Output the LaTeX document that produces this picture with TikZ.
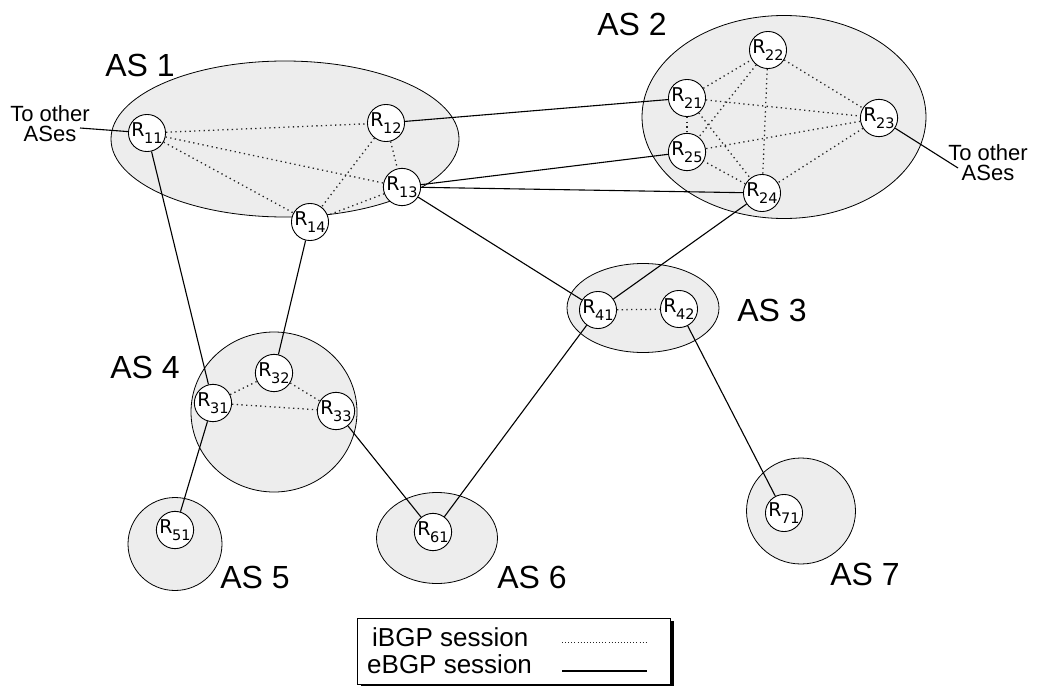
\documentclass[tikz,border=0pt]{standalone}
\usepackage{fontspec}
\setmainfont{Liberation Sans}
\newfontfamily\rfont{DejaVu Sans}
\usetikzlibrary{shapes.geometric}

% router label: R with a lowered index
\newcommand{\rlab}[1]{\fontsize{19}{19}\selectfont R\kern-0.5pt\raisebox{-6.5pt}{\fontsize{14.5}{14.5}\selectfont #1}}

\tikzset{
  asarea/.style={ellipse, draw, line width=0.8pt, fill=black!7, inner sep=0pt},
  router/.style={circle, draw, line width=0.9pt, fill=white, minimum size=35pt,
                 inner sep=0pt, font=\rfont},
  aslabel/.style={font=\fontsize{32}{32}\selectfont, inner sep=0pt},
  farlabel/.style={font=\fontsize{22}{20}\selectfont, align=center, inner sep=0pt},
  ibgp/.style={line width=1.3pt, black!85, dash pattern=on 1.3pt off 3.4pt},
  ebgp/.style={line width=1.1pt, black},
  legtext/.style={font=\fontsize{26}{26}\selectfont, inner sep=0pt, anchor=base west}
}

\begin{document}
\begin{tikzpicture}[x=1pt, y=-1pt]
\useasboundingbox (0,0) rectangle (1038,685);

% autonomous systems
\node[asarea, minimum width=348pt, minimum height=156pt] (as1) at (285,139) {};
\node[asarea, minimum width=284pt, minimum height=203pt] (as2) at (784,117) {};
\node[asarea, minimum width=152pt, minimum height=89pt]  (as3) at (643,308) {};
\node[asarea, minimum width=166pt, minimum height=160pt] (as4) at (274,412) {};
\node[asarea, minimum width=94pt,  minimum height=93pt]  (as5) at (175,544) {};
\node[asarea, minimum width=121pt, minimum height=91pt]  (as6) at (437,538) {};
\node[asarea, minimum width=109pt, minimum height=106pt] (as7) at (801,511) {};

\node[aslabel] (l1) at (140,65)  {AS 1};
\node[aslabel] (l2) at (632,24)  {AS 2};
\node[aslabel] (l3) at (772,310) {AS 3};
\node[aslabel] (l4) at (145,367) {AS 4};
\node[aslabel] (l5) at (255,577) {AS 5};
\node[aslabel] (l6) at (532,577) {AS 6};
\node[aslabel] (l7) at (865,574) {AS 7};

% routers
\node[router] (r11) at (147,133) {\rlab{11}};
\node[router] (r12) at (386,123) {\rlab{12}};
\node[router] (r13) at (402,187) {\rlab{13}};
\node[router] (r14) at (310,222) {\rlab{14}};
\node[router] (r21) at (687,98)  {\rlab{21}};
\node[router] (r22) at (768,50)  {\rlab{22}};
\node[router] (r23) at (879,118) {\rlab{23}};
\node[router] (r24) at (762,193) {\rlab{24}};
\node[router] (r25) at (687,152) {\rlab{25}};
\node[router] (r41) at (598,310) {\rlab{41}};
\node[router] (r42) at (679,309) {\rlab{42}};
\node[router] (r31) at (213,403) {\rlab{31}};
\node[router] (r32) at (274,373) {\rlab{32}};
\node[router] (r33) at (336,411) {\rlab{33}};
\node[router] (r51) at (175,530) {\rlab{51}};
\node[router] (r61) at (433,532) {\rlab{61}};
\node[router] (r71) at (784,513) {\rlab{71}};

% links towards other ASes
\node[farlabel] (out1) at (50,124)  {To other\\ASes};
\node[farlabel] (out2) at (988,163) {To other\\ASes};
\coordinate (o1) at (80,128);
\coordinate (o2) at (958,168);

% iBGP sessions
\draw[ibgp] (r11) -- (r12);
\draw[ibgp] (r11) -- (r13);
\draw[ibgp] (r11) -- (r14);
\draw[ibgp] (r12) -- (r13);
\draw[ibgp] (r12) -- (r14);
\draw[ibgp] (r13) -- (r14);
\draw[ibgp] (r21) -- (r22);
\draw[ibgp] (r21) -- (r23);
\draw[ibgp] (r21) -- (r24);
\draw[ibgp] (r21) -- (r25);
\draw[ibgp] (r22) -- (r23);
\draw[ibgp] (r22) -- (r24);
\draw[ibgp] (r22) -- (r25);
\draw[ibgp] (r23) -- (r24);
\draw[ibgp] (r23) -- (r25);
\draw[ibgp] (r24) -- (r25);
\draw[ibgp] (r41) -- (r42);
\draw[ibgp] (r31) -- (r32);
\draw[ibgp] (r31) -- (r33);
\draw[ibgp] (r32) -- (r33);

% eBGP sessions
\draw[ebgp] (o1) -- (r11);
\draw[ebgp] (r23) -- (o2);
\draw[ebgp] (r11) -- (r31);
\draw[ebgp] (r12) -- (r21);
\draw[ebgp] (r13) -- (r25);
\draw[ebgp] (r13) -- (r24);
\draw[ebgp] (r13) -- (r41);
\draw[ebgp] (r14) -- (r32);
\draw[ebgp] (r24) -- (r41);
\draw[ebgp] (r31) -- (r51);
\draw[ebgp] (r33) -- (r61);
\draw[ebgp] (r41) -- (r61);
\draw[ebgp] (r42) -- (r71);

% legend
\node[fill=black, minimum width=313pt, minimum height=66pt, inner sep=0pt] (legshadow) at (517,654) {};
\node[draw, line width=0.8pt, fill=white, minimum width=313pt, minimum height=66pt, inner sep=0pt] (legend) at (513.5,651) {};
\node[legtext] (ti) at (372,646) {iBGP session};
\node[legtext] (te) at (367,673) {eBGP session};
\coordinate (ia) at (562,642);
\coordinate (ib) at (647,642);
\coordinate (ea) at (562,671);
\coordinate (eb) at (647,671);
\draw[ibgp, line width=0.9pt, dash pattern=on 0.9pt off 2.2pt] (ia) -- (ib);
\draw[ebgp] (ea) -- (eb);
\end{tikzpicture}
\end{document}
